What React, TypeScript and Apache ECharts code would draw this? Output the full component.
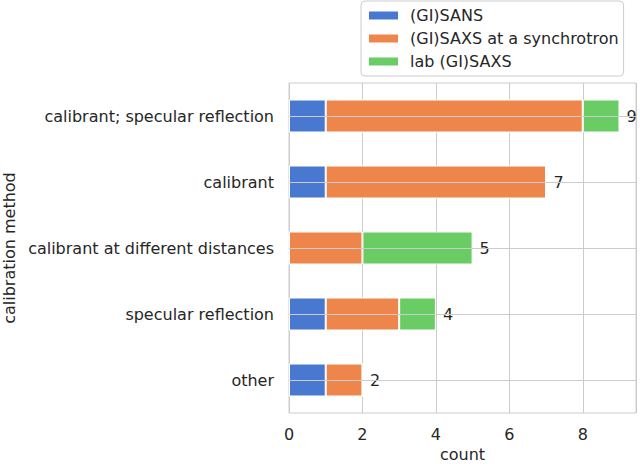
import React, { useEffect, useRef } from "react";
import * as echarts from "echarts";

const categories = [
  "calibrant; specular reflection",
  "calibrant",
  "calibrant at different distances",
  "specular reflection",
  "other",
];
const sans = [1, 1, 0, 1, 1];
const saxsSync = [7, 6, 2, 2, 1];
const labSaxs = [1, 0, 3, 1, 0];
const totals = [9, 7, 5, 4, 2];
const seriesNames = ["(GI)SANS", "(GI)SAXS at a synchrotron", "lab (GI)SAXS"];
const colors = ["#4878d0", "#ee854a", "#6acc64"];

const FONT = "DejaVu Sans";
const TXT = "#262626";

export default function App() {
  const ref = useRef<HTMLDivElement>(null);
  useEffect(() => {
    if (!ref.current) return;
    const chart = echarts.init(ref.current, undefined, { renderer: "svg" });
    const values = [sans, saxsSync, labSaxs];
    const barSeries = values.map((v, i) => ({
      name: seriesNames[i],
      type: "bar",
      stack: "total",
      barWidth: "50%",
      z: 2,
      data: v,
      itemStyle: { color: colors[i], borderColor: "#ffffff", borderWidth: 1 },
      label:
        i === 2
          ? {
              show: true,
              position: "right",
              distance: 7,
              formatter: (p: any) => String(totals[p.dataIndex]),
              fontFamily: FONT,
              fontSize: 16,
              color: TXT,
            }
          : { show: false },
    }));
    chart.setOption({
      animation: false,
      textStyle: { fontFamily: FONT },
      grid: {
        left: 289,
        right: 4,
        top: 83,
        bottom: 51,
        show: true,
        borderColor: "#cccccc",
        borderWidth: 1,
        backgroundColor: "#ffffff",
        containLabel: false,
        outerBoundsMode: "none",
      },
      legend: {
        data: seriesNames,
        orient: "vertical",
        left: 361,
        top: 1,
        itemWidth: 31,
        itemHeight: 10,
        itemGap: 4,
        padding: [5, 5, 5, 6],
        borderColor: "#cccccc",
        borderWidth: 1,
        borderRadius: 4,
        backgroundColor: "rgba(255,255,255,0.9)",
        icon: "rect",
        textStyle: {
          fontFamily: FONT,
          fontSize: 16,
          color: TXT,
          lineHeight: 19,
          padding: [0, 0, 0, 6],
        },
      },
      xAxis: {
        type: "value",
        min: 0,
        max: 9.45,
        interval: 2,
        name: "count",
        nameLocation: "middle",
        nameGap: 32,
        nameTextStyle: { fontFamily: FONT, fontSize: 16, color: TXT },
        axisLine: { show: false },
        axisTick: { show: false },
        axisLabel: {
          fontFamily: FONT,
          fontSize: 16,
          color: TXT,
          margin: 13,
          showMaxLabel: false,
        },
        splitLine: { show: true, lineStyle: { color: "#cccccc", width: 1 } },
      },
      yAxis: {
        type: "category",
        data: categories,
        inverse: true,
        name: "calibration method",
        nameLocation: "middle",
        nameGap: 272,
        nameTextStyle: { fontFamily: FONT, fontSize: 16, color: TXT },
        axisLine: { show: false },
        axisTick: { show: false },
        axisLabel: { fontFamily: FONT, fontSize: 16, color: TXT, margin: 15 },
        splitLine: { show: false },
      },
      series: [
        {
          name: "grid-lines",
          type: "line",
          data: [],
          z: 1,
          silent: true,
          markLine: {
            silent: true,
            symbol: ["none", "none"],
            label: { show: false },
            lineStyle: { color: "#cccccc", type: "solid", width: 1 },
            data: categories.map((c) => ({ yAxis: c })),
          },
        },
        ...barSeries,
      ],
    });
    return () => chart.dispose();
  }, []);
  return <div ref={ref} style={{ width: 640, height: 464, position: "absolute", left: 0, top: 0 }} />;
}
